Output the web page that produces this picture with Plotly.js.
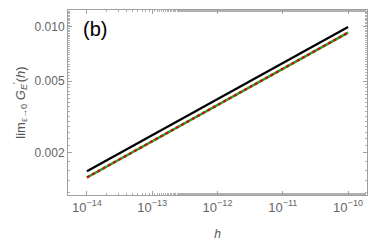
<!DOCTYPE html>
<html><head><meta charset="utf-8">
<script src="https://cdn.plot.ly/plotly-3.0.1.min.js"></script>
<style>html,body{margin:0;padding:0;background:#fff}#c{width:374px;height:251px}</style>
</head><body><div id="c"></div>
<script>
const hVals = [1e-14, 1e-13, 1e-12, 1e-11, 1e-10];
const blackG = [0.00158, 0.0025, 0.00398, 0.0063, 0.0100];
const greenG = [0.00146, 0.00232, 0.00368, 0.00585, 0.0093];
const redG   = [0.00146, 0.00232, 0.00368, 0.00585, 0.0093];
const xTickVals = [1e-14, 1e-13, 1e-12, 1e-11, 1e-10];
const xTickText = ['10<sup>−14</sup>','10<sup>−13</sup>','10<sup>−12</sup>','10<sup>−11</sup>','10<sup>−10</sup>'];
const yTickVals = [0.002, 0.005, 0.010];
const yTickText = ['0.002','0.005','0.010'];

const FONT = 'Liberation Sans, Arial, sans-serif';
const traces = [
  {x:hVals, y:blackG, mode:'lines', line:{color:'#000', width:2.2}},
  {x:hVals, y:greenG, mode:'lines', line:{color:'#1fa51f', width:2.4}},
  {x:hVals, y:redG, mode:'lines', line:{color:'#cc1111', width:2.4, dash:'dot'}}
];
const axisCommon = {
  showgrid:false, zeroline:false, showline:true, linecolor:'#a0a0a0', linewidth:1,
  mirror:'ticks', ticks:'inside', ticklen:4, tickcolor:'#a0a0a0',
  tickfont:{family:FONT, size:12, color:'#666'},
  minor:{ticks:'inside', ticklen:2, tickcolor:'#b0b0b0'}
};
const layout = {
  width:374, height:251, margin:{l:68, r:7, t:10, b:56},
  paper_bgcolor:'#fff', plot_bgcolor:'#fff', showlegend:false,
  xaxis:Object.assign({}, axisCommon, {type:'log', range:[-14.29, -9.71],
    tickvals:xTickVals, ticktext:xTickText, tickfont:{family:FONT, size:13, color:'#666'},
    title:{text:'<i>h</i>', font:{family:FONT, size:12, color:'#555'}, standoff:16}}),
  yaxis:Object.assign({}, axisCommon, {type:'log', range:[-2.933, -1.906],
    tickvals:yTickVals, ticktext:yTickText,
    title:{text:'lim<sub>ε→0</sub> <i>G</i><sub><i>E</i></sub><sup>\'</sup>(<i>h</i>)', font:{family:FONT, size:13, color:'#555'}, standoff:6}}),
  annotations:[{text:'(b)', xref:'paper', yref:'paper', x:0.045, y:0.97, xanchor:'left', yanchor:'top', showarrow:false,
    font:{family:FONT, size:20, color:'#000'}}]
};
Plotly.newPlot('c', traces, layout, {staticPlot:true, displayModeBar:false});
</script></body></html>
